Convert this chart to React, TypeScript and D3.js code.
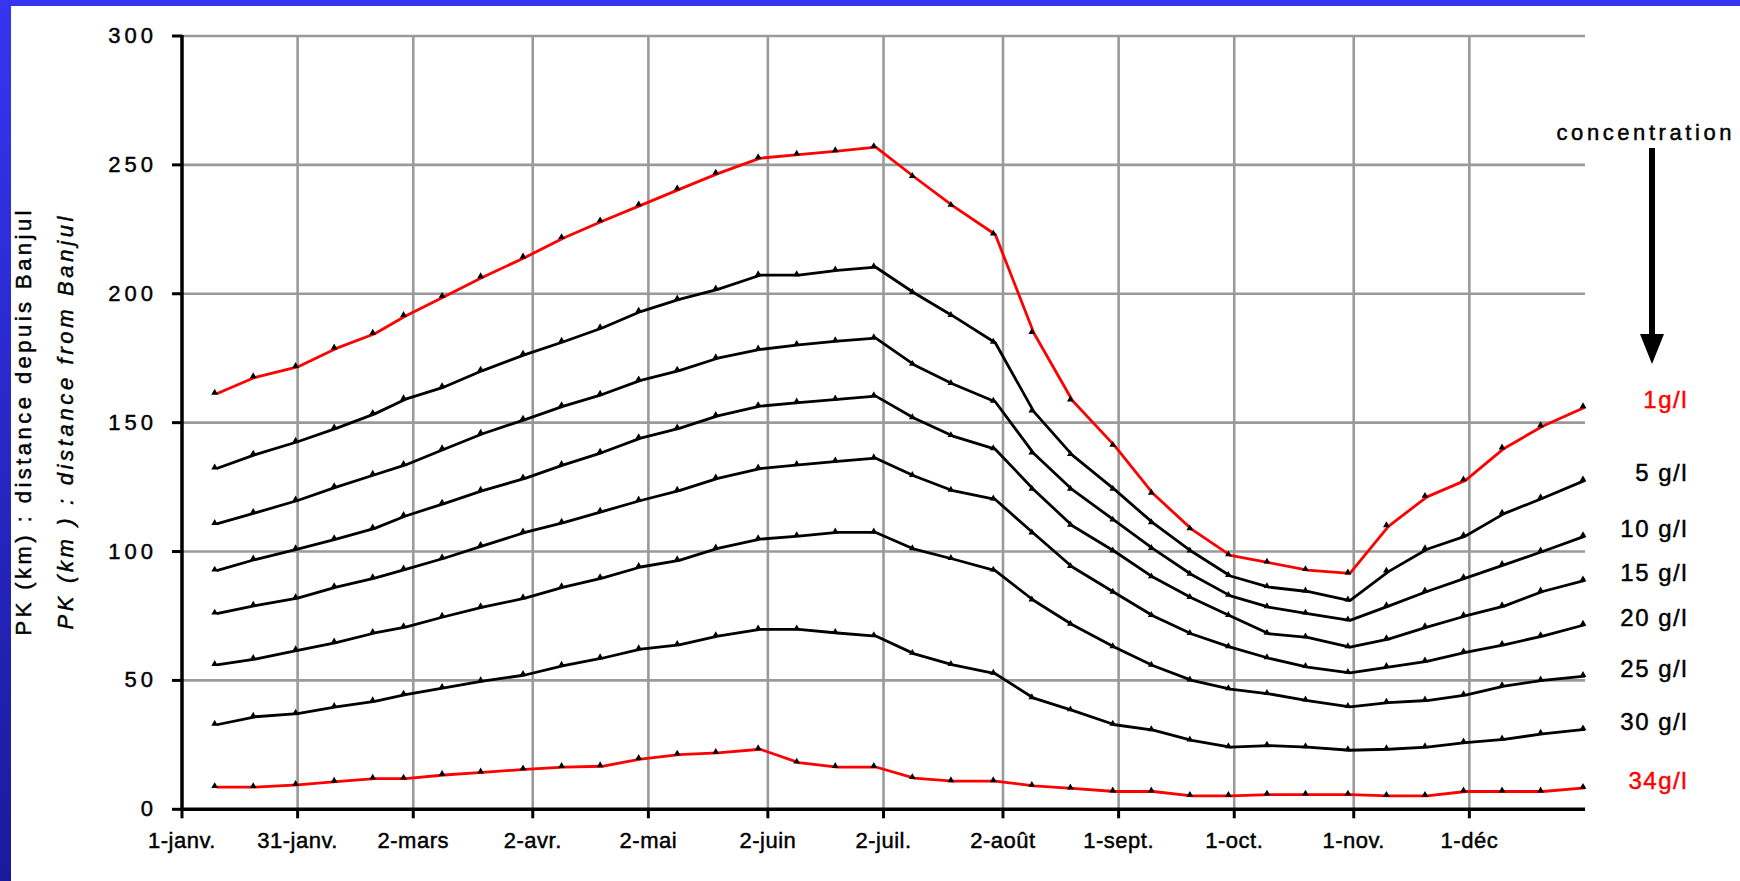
import React from 'react';
import * as d3 from 'd3';

const dekadDates = [
  '1999-01-10', '1999-01-20', '1999-01-31', '1999-02-10', '1999-02-20', '1999-02-28',
  '1999-03-10', '1999-03-20', '1999-03-31', '1999-04-10', '1999-04-20', '1999-04-30',
  '1999-05-10', '1999-05-20', '1999-05-31', '1999-06-10', '1999-06-20', '1999-06-30',
  '1999-07-10', '1999-07-20', '1999-07-31', '1999-08-10', '1999-08-20', '1999-08-31',
  '1999-09-10', '1999-09-20', '1999-09-30', '1999-10-10', '1999-10-20', '1999-10-31',
  '1999-11-10', '1999-11-20', '1999-11-30', '1999-12-10', '1999-12-20', '1999-12-31',
];

const tickDates = [
  '1999-01-01', '1999-01-31', '1999-03-02', '1999-04-02', '1999-05-02', '1999-06-02',
  '1999-07-02', '1999-08-02', '1999-09-01', '1999-10-01', '1999-11-01', '1999-12-01',
];
const tickLabels = [
  '1-janv.', '31-janv.', '2-mars', '2-avr.', '2-mai', '2-juin',
  '2-juil.', '2-août', '1-sept.', '1-oct.', '1-nov.', '1-déc',
];
const yTicks = [0, 50, 100, 150, 200, 250, 300];

const c1 = [161.2, 167.6, 171.6, 178.8, 184.5, 191.4, 198.8, 206.4, 214.1, 221.6, 228.1, 234.3,
  240.5, 246.6, 252.6, 254, 255.3, 256.9, 245.3, 234.1, 223, 184.8, 158.6, 141,
  122.4, 108.6, 98.5, 95.7, 92.8, 91.5, 109.8, 121.2, 127.6, 140, 148.6, 156];
const c5 = [132.2, 137.6, 142.6, 147.8, 153.4, 159.1, 163.8, 170.2, 176.4, 181.4, 186.7, 193.1,
  197.8, 201.7, 207.2, 207.2, 209.1, 210.3, 200.3, 191.4, 181, 154.3, 137.4, 124,
  111, 100, 90.5, 86.2, 84.5, 81, 92.2, 100.9, 106, 114.7, 120.7, 127.6];
const c10 = [110.7, 115, 119.8, 125, 129.8, 133.6, 139.7, 145.7, 151.2, 156.4, 160.9, 166.4,
  170.2, 175, 178.4, 180.2, 181.6, 182.8, 172.4, 165, 158.1, 138, 124, 112,
  101, 91, 82.8, 78.4, 75.9, 73.3, 78.8, 84.5, 89.7, 94.8, 100, 106];
const c15 = [92.6, 96.9, 100.9, 104.8, 109, 113.8, 118.6, 123.6, 128.4, 133.6, 138.4, 144,
  147.8, 152.6, 156.4, 157.8, 159, 160.3, 151.7, 144.8, 139.7, 124, 110, 100,
  90, 82, 75, 68.1, 66.7, 62.9, 66, 70.7, 75, 78.8, 84.5, 88.8];
const c20 = [75.9, 79, 81.9, 86.2, 89.7, 93.1, 97.4, 102.2, 107.4, 111.2, 115.5, 119.8,
  123.6, 128.4, 132.2, 133.6, 135, 136.2, 129.3, 123.6, 120.2, 107, 94, 84,
  75, 68, 62.9, 58.6, 55.2, 52.9, 55.2, 57.4, 60.9, 63.8, 67.2, 71.6];
const c25 = [56, 58.3, 61.7, 64.7, 68.4, 70.7, 74.7, 78.4, 81.9, 86.2, 89.7, 94,
  96.6, 101.2, 104.8, 106, 107.4, 107.4, 100.9, 97.1, 92.6, 81, 71.6, 62.9,
  55.7, 50, 46.6, 44.8, 42.2, 39.7, 41.4, 42.2, 44.3, 47.8, 50, 51.7];
const c30 = [32.8, 35.9, 37.1, 39.7, 41.9, 44.5, 47.1, 49.7, 52.1, 55.7, 58.6, 62.1,
  63.8, 67.2, 69.8, 69.8, 68.4, 67.2, 60.3, 56, 52.6, 43.1, 38.4, 32.8,
  30.7, 26.7, 24.1, 24.7, 24.1, 22.9, 23.3, 24.1, 25.9, 27.1, 29.3, 31];
const c34 = [8.6, 8.6, 9.5, 10.7, 11.9, 11.9, 13.3, 14.3, 15.5, 16.4, 16.7, 19.5,
  21.2, 21.9, 23.3, 18.1, 16.4, 16.4, 12.1, 10.9, 10.9, 9.1, 8.1, 6.9,
  6.9, 5.2, 5.2, 5.7, 5.7, 5.7, 5.2, 5.2, 6.9, 6.9, 6.9, 8.3];

const seriesValues = [c1, c5, c10, c15, c20, c25, c30, c34];
const seriesLabels = ['1g/l', '5 g/l', '10 g/l', '15 g/l', '20 g/l', '25 g/l', '30 g/l', '34g/l'];
const seriesColors = ['#ff0000', '#000000', '#000000', '#000000', '#000000', '#000000', '#000000', '#ff0000'];

const W = 1740;
const H = 881;
const FONT = '"Liberation Sans", Arial, sans-serif';

const parse = (s: string) => new Date(s + 'T00:00:00Z');

export default function App() {
  const x = d3.scaleUtc()
    .domain([parse('1999-01-01'), parse('1999-12-31')])
    .range([182, 1585]);
  const y = d3.scaleLinear().domain([0, 300]).range([809.3, 36]);
  const [x0, x1] = x.range();
  const [y0, y1] = y.range();

  const line = d3.line<number>()
    .x((_, i) => x(parse(dekadDates[i])))
    .y((v) => y(v));
  const marker = d3.symbol().type(d3.symbolTriangle).size(20)();

  const textStyle = { fontFamily: FONT, fill: '#000', stroke: '#000', strokeWidth: 0.45 };

  return (
    <svg width={W} height={H} style={{ position: 'absolute', left: 0, top: 0, background: '#fff' }}>
      <defs>
        <linearGradient id="bg" x1="0" y1="0" x2="0" y2="1">
          <stop offset="0%" stopColor="#3535f2" />
          <stop offset="100%" stopColor="#1a1a9c" />
        </linearGradient>
      </defs>
      <rect x={0} y={0} width={W} height={H} fill="url(#bg)" />
      <rect x={11} y={6} width={W - 11} height={H - 6} fill="#ffffff" />

      {/* grid */}
      {yTicks.filter((t) => t > 0).map((t) => (
        <line key={'gy' + t} x1={x0} x2={x1} y1={y(t)} y2={y(t)} stroke="#9a9a9a" strokeWidth={2.6} />
      ))}
      {tickDates.slice(1).map((d) => (
        <line key={'gx' + d} x1={x(parse(d))} x2={x(parse(d))} y1={y1} y2={y0} stroke="#9a9a9a" strokeWidth={2.6} />
      ))}

      {/* axes */}
      <line x1={x0} x2={x0} y1={y1 - 1} y2={y0 + 1} stroke="#000" strokeWidth={3.5} />
      <line x1={x0 - 1} x2={x1} y1={y0} y2={y0} stroke="#000" strokeWidth={3.5} />
      {yTicks.map((t) => (
        <g key={'yt' + t}>
          <line x1={x0 - 10} x2={x0} y1={y(t)} y2={y(t)} stroke="#000" strokeWidth={3} />
          <text x={157} y={y(t) + 7} textAnchor="end" fontSize={22} letterSpacing={4} style={textStyle}>{t}</text>
        </g>
      ))}
      {tickDates.map((d, i) => (
        <g key={'xt' + d}>
          <line x1={x(parse(d))} x2={x(parse(d))} y1={y0} y2={y0 + 9} stroke="#000" strokeWidth={3} />
          <text x={x(parse(d))} y={848} textAnchor="middle" fontSize={22} letterSpacing={0.5} style={textStyle}>{tickLabels[i]}</text>
        </g>
      ))}

      {/* y-axis titles */}
      <text transform="translate(31,423) rotate(-90)" textAnchor="middle" fontSize={22}
        textLength={425} lengthAdjust="spacing" style={textStyle}>PK (km) : distance depuis Banjul</text>
      <text transform="translate(73,423) rotate(-90)" textAnchor="middle" fontSize={22}
        fontStyle="italic" textLength={413} lengthAdjust="spacing" style={textStyle}>PK (km ) : distance from Banjul</text>

      {/* series */}
      {seriesValues.map((vals, si) => (
        <g key={'s' + si}>
          <path d={line(vals) || ''} fill="none" stroke={seriesColors[si]} strokeWidth={2.8} strokeLinejoin="round" />
          {vals.map((v, i) => (
            <path key={i} d={marker || ''} transform={`translate(${x(parse(dekadDates[i])) - 2},${y(v) - 1})`} fill="#000" />
          ))}
          <text x={1688} y={y(vals[vals.length - 1]) + 1} textAnchor="end" fontSize={24}
            letterSpacing={1.5} style={{ ...textStyle, fill: seriesColors[si], stroke: seriesColors[si] }}>{seriesLabels[si]}</text>
        </g>
      ))}

      {/* concentration arrow */}
      <text x={1644} y={140} textAnchor="middle" fontSize={22} textLength={175}
        lengthAdjust="spacing" style={textStyle}>concentration</text>
      <line x1={1652} x2={1652} y1={148} y2={340} stroke="#000" strokeWidth={6} />
      <path d="M1640,334 L1664,334 L1652,364 Z" fill="#000" />
    </svg>
  );
}
